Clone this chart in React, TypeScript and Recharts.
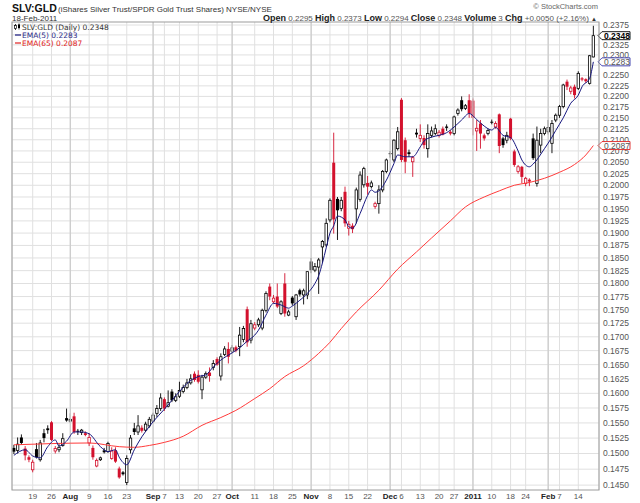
import React from 'react';
import { ComposedChart, Bar, Line, XAxis, YAxis, CartesianGrid, ReferenceLine } from 'recharts';

// SLV:GLD daily candles, 12-Jul-2010 .. 18-Feb-2011
const opens = [
  0.1509, 0.1505, 0.1526, 0.1508, 0.1494, 0.1474, 0.1507, 0.1490, 0.1533, 0.1541,
  0.1551, 0.1504, 0.1506, 0.1513, 0.1558, 0.1553, 0.1561, 0.1537, 0.1534, 0.1533,
  0.1517, 0.1509, 0.1480, 0.1490, 0.1505, 0.1503, 0.1492, 0.1505, 0.1476, 0.1470,
  0.1454, 0.1506, 0.1541, 0.1535, 0.1542, 0.1538, 0.1545, 0.1553, 0.1566, 0.1574,
  0.1590, 0.1578, 0.1603, 0.1588, 0.1595, 0.1603, 0.1610, 0.1618, 0.1634, 0.1632,
  0.1606, 0.1628, 0.1636, 0.1645, 0.1660, 0.1630, 0.1668, 0.1678, 0.1674, 0.1681,
  0.1682, 0.1695, 0.1751, 0.1694, 0.1716, 0.1722, 0.1716, 0.1749, 0.1794, 0.1765,
  0.1775, 0.1743, 0.1800, 0.1740, 0.1773, 0.1737, 0.1787, 0.1778, 0.1778, 0.1843,
  0.1826, 0.1832, 0.1872, 0.1876, 0.1927, 0.2049, 0.1971, 0.1951, 0.1986, 0.1910,
  0.1915, 0.1950, 0.1970, 0.2001, 0.2005, 0.1997, 0.1955, 0.1961, 0.1990, 0.2030,
  0.2070, 0.2055, 0.2080, 0.2192, 0.2099, 0.2072, 0.2051, 0.2116, 0.2103, 0.2104,
  0.2080, 0.2110, 0.2114, 0.2110, 0.2125, 0.2130, 0.2118, 0.2114, 0.2160, 0.2191,
  0.2172, 0.2191, 0.2190, 0.2120, 0.2137, 0.2110, 0.2114, 0.2141, 0.2129, 0.2158,
  0.2103, 0.2099, 0.2148, 0.2074, 0.2030, 0.2040, 0.2004, 0.2012, 0.2103, 0.2004,
  0.2088, 0.2114, 0.2118, 0.2092, 0.2145, 0.2156, 0.2176, 0.2235, 0.2212, 0.2223,
  0.2219, 0.2243, 0.2241, 0.2231, 0.2295,
];
const highs = [
  0.1514, 0.1526, 0.1531, 0.1512, 0.1497, 0.1490, 0.1517, 0.1522, 0.1540, 0.1546,
  0.1553, 0.1512, 0.1515, 0.1533, 0.1574, 0.1566, 0.1567, 0.1540, 0.1540, 0.1536,
  0.1533, 0.1513, 0.1492, 0.1495, 0.1509, 0.1519, 0.1510, 0.1510, 0.1479, 0.1472,
  0.1497, 0.1530, 0.1550, 0.1563, 0.1546, 0.1552, 0.1560, 0.1567, 0.1580, 0.1600,
  0.1593, 0.1605, 0.1607, 0.1600, 0.1620, 0.1615, 0.1625, 0.1633, 0.1638, 0.1640,
  0.1632, 0.1638, 0.1645, 0.1658, 0.1663, 0.1670, 0.1683, 0.1690, 0.1685, 0.1684,
  0.1718, 0.1720, 0.1756, 0.1731, 0.1727, 0.1735, 0.1752, 0.1785, 0.1800, 0.1778,
  0.1800, 0.1768, 0.1820, 0.1750, 0.1776, 0.1780, 0.1790, 0.1790, 0.1823, 0.1850,
  0.1840, 0.1850, 0.1886, 0.1930, 0.1972, 0.2116, 0.1975, 0.1975, 0.1997, 0.1925,
  0.1920, 0.1995, 0.2030, 0.2040, 0.2020, 0.2010, 0.1965, 0.2000, 0.2033, 0.2058,
  0.2075, 0.2101, 0.2129, 0.2196, 0.2105, 0.2078, 0.2064, 0.2125, 0.2135, 0.2110,
  0.2135, 0.2130, 0.2135, 0.2122, 0.2130, 0.2135, 0.2122, 0.2155, 0.2172, 0.2200,
  0.2182, 0.2205, 0.2195, 0.2145, 0.2145, 0.2114, 0.2125, 0.2146, 0.2142, 0.2160,
  0.2107, 0.2118, 0.2150, 0.2078, 0.2044, 0.2042, 0.2018, 0.2015, 0.2114, 0.2130,
  0.2125, 0.2130, 0.2145, 0.2145, 0.2160, 0.2180, 0.2230, 0.2240, 0.2225, 0.2228,
  0.2260, 0.2246, 0.2243, 0.2300, 0.2373,
];
const lows = [
  0.1499, 0.1500, 0.1514, 0.1489, 0.1486, 0.1470, 0.1492, 0.1487, 0.1518, 0.1532,
  0.1520, 0.1500, 0.1502, 0.1511, 0.1552, 0.1550, 0.1532, 0.1530, 0.1530, 0.1528,
  0.1512, 0.1490, 0.1478, 0.1488, 0.1500, 0.1501, 0.1490, 0.1485, 0.1460, 0.1465,
  0.1450, 0.1500, 0.1530, 0.1530, 0.1534, 0.1535, 0.1542, 0.1550, 0.1560, 0.1570,
  0.1570, 0.1576, 0.1585, 0.1585, 0.1592, 0.1600, 0.1607, 0.1615, 0.1620, 0.1617,
  0.1590, 0.1625, 0.1620, 0.1640, 0.1648, 0.1622, 0.1665, 0.1652, 0.1670, 0.1672,
  0.1665, 0.1690, 0.1682, 0.1688, 0.1712, 0.1718, 0.1712, 0.1745, 0.1768, 0.1762,
  0.1753, 0.1740, 0.1737, 0.1738, 0.1758, 0.1731, 0.1775, 0.1760, 0.1770, 0.1820,
  0.1822, 0.1780, 0.1840, 0.1872, 0.1922, 0.1899, 0.1886, 0.1945, 0.1913, 0.1895,
  0.1900, 0.1920, 0.1965, 0.1995, 0.1980, 0.1993, 0.1950, 0.1940, 0.1985, 0.2026,
  0.2060, 0.2050, 0.2076, 0.2050, 0.2026, 0.2062, 0.2018, 0.2105, 0.2095, 0.2080,
  0.2060, 0.2105, 0.2110, 0.2105, 0.2110, 0.2120, 0.2110, 0.2110, 0.2155, 0.2165,
  0.2168, 0.2150, 0.2110, 0.2075, 0.2080, 0.2098, 0.2110, 0.2135, 0.2125, 0.2070,
  0.2082, 0.2092, 0.2099, 0.2040, 0.2025, 0.2004, 0.1998, 0.1998, 0.2055, 0.1997,
  0.2070, 0.2110, 0.2112, 0.2070, 0.2140, 0.2150, 0.2172, 0.2215, 0.2205, 0.2195,
  0.2215, 0.2236, 0.2232, 0.2228, 0.2294,
];
const closes = [
  0.1503, 0.1515, 0.1517, 0.1497, 0.1490, 0.1486, 0.1494, 0.1517, 0.1525, 0.1538,
  0.1522, 0.1508, 0.1510, 0.1524, 0.1554, 0.1556, 0.1535, 0.1536, 0.1538, 0.1530,
  0.1526, 0.1494, 0.1489, 0.1493, 0.1502, 0.1516, 0.1504, 0.1487, 0.1462, 0.1467,
  0.1492, 0.1525, 0.1535, 0.1545, 0.1537, 0.1548, 0.1556, 0.1563, 0.1574, 0.1592,
  0.1574, 0.1584, 0.1588, 0.1594, 0.1605, 0.1610, 0.1618, 0.1625, 0.1623, 0.1620,
  0.1628, 0.1634, 0.1630, 0.1652, 0.1650, 0.1664, 0.1678, 0.1664, 0.1680, 0.1675,
  0.1703, 0.1715, 0.1690, 0.1724, 0.1722, 0.1731, 0.1749, 0.1781, 0.1775, 0.1772,
  0.1756, 0.1765, 0.1743, 0.1746, 0.1762, 0.1778, 0.1779, 0.1786, 0.1823, 0.1826,
  0.1833, 0.1846, 0.1883, 0.1920, 0.1968, 0.1928, 0.1947, 0.1968, 0.1920, 0.1918,
  0.1908, 0.1990, 0.2022, 0.2036, 0.1997, 0.2005, 0.1961, 0.1990, 0.2030, 0.2055,
  0.2068, 0.2099, 0.2118, 0.2055, 0.2051, 0.2068, 0.2060, 0.2112, 0.2110, 0.2088,
  0.2114, 0.2120, 0.2125, 0.2117, 0.2112, 0.2127, 0.2114, 0.2152, 0.2168, 0.2170,
  0.2178, 0.2160, 0.2150, 0.2126, 0.2114, 0.2103, 0.2121, 0.2139, 0.2137, 0.2086,
  0.2088, 0.2110, 0.2103, 0.2044, 0.2040, 0.2018, 0.2015, 0.2008, 0.2059, 0.2099,
  0.2114, 0.2125, 0.2128, 0.2137, 0.2156, 0.2176, 0.2227, 0.2223, 0.2220, 0.2203,
  0.2255, 0.2240, 0.2236, 0.2298, 0.2348,
];

// EMA lines, read at a subset of days: [day index, value]
const ema5Points: [number, number][] = [
  [0, 0.1497], [3, 0.1506], [5, 0.1496], [7, 0.1493], [9, 0.1511], [11, 0.1522], [12, 0.1512],
  [14, 0.1520], [16, 0.1535], [18, 0.1535], [20, 0.1532], [23, 0.1511], [25, 0.1503], [27, 0.1506],
  [28, 0.1494], [30, 0.1482], [32, 0.1506], [34, 0.1527], [36, 0.1544], [37, 0.1552], [40, 0.1573],
  [42, 0.1588], [44, 0.1603], [46, 0.1617], [49, 0.1629], [51, 0.1632], [53, 0.1646], [55, 0.1658],
  [58, 0.1671], [60, 0.1680], [62, 0.1692], [64, 0.1703], [65, 0.1712], [67, 0.1740], [69, 0.1762],
  [71, 0.1759], [73, 0.1753], [74, 0.1757], [76, 0.1768], [78, 0.1781], [80, 0.1800], [81, 0.1815],
  [82, 0.1840], [83, 0.1870], [84, 0.1900], [85, 0.1915], [86, 0.1935], [88, 0.1927], [89, 0.1913],
  [90, 0.1910], [92, 0.1940], [94, 0.1978], [95, 0.1990], [96, 0.1985], [97, 0.1988], [99, 0.2011],
  [101, 0.2047], [102, 0.2066], [104, 0.2062], [106, 0.2062], [108, 0.2084], [109, 0.2097],
  [111, 0.2106], [113, 0.2110], [115, 0.2116], [117, 0.2129], [119, 0.2145], [121, 0.2160],
  [123, 0.2146], [125, 0.2131], [127, 0.2122], [128, 0.2128], [130, 0.2110], [132, 0.2105],
  [134, 0.2075], [135, 0.2055], [137, 0.2040], [138, 0.2046], [141, 0.2080], [143, 0.2106],
  [144, 0.2121], [146, 0.2150], [148, 0.2184], [150, 0.2203], [151, 0.2223], [153, 0.2243],
  [154, 0.2283],
];
const ema65Points: [number, number][] = [
  [0, 0.1514], [10, 0.1516], [20, 0.1517], [28, 0.1511], [32, 0.1510], [36, 0.1513], [40, 0.1518],
  [45, 0.1528], [50, 0.1546], [55, 0.1559], [59, 0.1571], [64, 0.1591], [68, 0.1608], [72, 0.1629],
  [77, 0.1648], [81, 0.1670], [84, 0.1690], [87, 0.1715], [91, 0.1746], [97, 0.1787], [102, 0.1828],
  [107, 0.1862], [111, 0.1890], [116, 0.1925], [120, 0.1954], [125, 0.1975], [129, 0.1988],
  [133, 0.2000], [137, 0.2006], [141, 0.2015], [145, 0.2028], [149, 0.2045], [152, 0.2066],
  [154, 0.2087],
];

const priceTicks = [
  0.145, 0.1475, 0.15, 0.1525, 0.155, 0.1575, 0.16, 0.1625, 0.165, 0.1675, 0.17, 0.1725, 0.175,
  0.1775, 0.18, 0.1825, 0.185, 0.1875, 0.19, 0.1925, 0.195, 0.1975, 0.2, 0.2025, 0.205, 0.2075,
  0.21, 0.2125, 0.215, 0.2175, 0.22, 0.2225, 0.225, 0.2275, 0.23, 0.2325, 0.235, 0.2375,
];
const xTickIdx = [5, 10, 15, 20, 25, 30, 37, 40, 44, 49, 54, 58, 64, 69, 74, 79, 84, 89, 94, 100, 103, 108, 113, 117, 122, 127, 132, 136, 142, 145, 150];
const xTickLabels = ['19', '26', 'Aug', '9', '16', '23', 'Sep', '7', '13', '20', '27', 'Oct', '11', '18', '25', 'Nov', '8', '15', '22', 'Dec', '6', '13', '20', '27', '2011', '10', '18', '24', 'Feb', '7', '14'];
const monthLabels = ['Aug', 'Sep', 'Oct', 'Nov', 'Dec', '2011', 'Feb'];

const SANS = '"Liberation Sans", Arial, sans-serif';
const LEGEND_FONT = '"DejaVu Sans", Verdana, sans-serif';
const RED = '#d3112d';
const EMA5_COLOR = '#16167e';
const EMA65_COLOR = '#ff3b3b';

const ema5ByIdx = new Map(ema5Points);
const ema65ByIdx = new Map(ema65Points);
const last = closes.length - 1;
const ema5Last = ema5Points[ema5Points.length - 1][1];
const ema65Last = ema65Points[ema65Points.length - 1][1];

// value tags on the price axis, drawn last so they sit on top of the labels
const tags = [
  { v: ema65Last, stroke: '#e02020', bold: false },
  { v: ema5Last, stroke: '#3535a8', bold: false },
  { v: closes[last], stroke: '#000', bold: true },
];

// one spare slot at the right edge, like the original
const rows = Array.from({ length: closes.length + 1 }, (_, i) => ({
  idx: i,
  open: opens[i] ?? null,
  high: highs[i] ?? null,
  low: lows[i] ?? null,
  close: closes[i] ?? null,
  prev: i > 0 ? closes[i - 1] ?? null : null,
  ema5: ema5ByIdx.get(i) ?? null,
  ema65: ema65ByIdx.get(i) ?? null,
}));

function Candle(props: any) {
  const { x, y, width, height, payload } = props;
  if (!payload || payload.open == null || y == null) return null;
  const { open, high, low, close, prev } = payload;
  const top = Math.min(y, y + height);
  const h = Math.abs(height);
  const lh = Math.log(high);
  const span = lh - Math.log(low) || 1e-9;
  // log axis: position inside the high-low bar
  const py = (p: number) => top + (h * (lh - Math.log(p))) / span;
  const cx = x + width / 2;
  const color = prev == null || close >= prev ? '#000' : RED;
  const y1 = py(Math.max(open, close));
  const y2 = py(Math.min(open, close));
  const hollow = close >= open;
  return (
    <g>
      <line x1={cx} x2={cx} y1={top} y2={top + h} stroke={color} strokeWidth={0.9} />
      {hollow ? (
        <rect x={cx - 1.2} y={y1} width={2.4} height={Math.max(y2 - y1, 0.6)} fill="#fff" stroke={color} strokeWidth={0.8} />
      ) : (
        <rect x={cx - 1.5} y={y1} width={3} height={Math.max(y2 - y1, 1)} fill={color} />
      )}
    </g>
  );
}

const YTick = (p: any) => {
  const v = Number(p.payload.value);
  const tag = tags.find((t) => t.v === v);
  if (tag) {
    const cy = p.y;
    return (
      <g>
        <path
          d={`M598,${cy} L602,${cy - 4} L630,${cy - 4} L630,${cy + 4} L602,${cy + 4} Z`}
          fill="#fff"
          stroke={tag.stroke}
          strokeWidth={0.9}
        />
        <text x={604} y={cy + 3} fontSize={8.5} fontFamily={SANS} fontWeight={tag.bold ? 'bold' : 'normal'} fill={tag.bold ? '#000' : '#555'}>
          {v.toFixed(4)}
        </text>
      </g>
    );
  }
  // labels that a tag would fully cover are left out
  if (tags.some((t) => Math.abs(Math.log(v / t.v)) < 0.004)) return <g />;
  return (
    <text x={603} y={p.y} dy={3} fontSize={8.5} fontFamily={SANS} fill="#555">
      {v.toFixed(4)}
    </text>
  );
};

const XTick = (p: any) => {
  const k = xTickIdx.indexOf(p.payload.value);
  const lab = xTickLabels[k] ?? '';
  const bold = monthLabels.includes(lab);
  return (
    <text x={p.x} y={499} textAnchor="middle" fontSize={8} fontFamily={SANS} fontWeight={bold ? 'bold' : 'normal'} fill={bold ? '#222' : '#555'}>
      {lab}
    </text>
  );
};

export default function App() {
  const pre = { whiteSpace: 'pre' } as React.CSSProperties;
  return (
    <div style={{ position: 'absolute', left: 0, top: 0, width: 640, height: 503, background: '#fff' }}>
      <ComposedChart width={640} height={503} data={rows} margin={{ top: 22, right: 0, bottom: 0, left: 12 }}>
        <CartesianGrid stroke="#e0e0e0" strokeWidth={1} horizontalValues={priceTicks} />
        <XAxis dataKey="idx" type="category" ticks={xTickIdx} interval={0} tick={XTick} tickLine={false} axisLine={false} height={13} />
        <YAxis
          orientation="right"
          scale="log"
          domain={[0.14424, 0.23827]}
          allowDataOverflow
          ticks={[...priceTicks, ...tags.map((t) => t.v)]}
          interval={0}
          tick={YTick}
          tickLine={false}
          axisLine={false}
          width={41}
        />
        {xTickIdx
          .filter((_, k) => monthLabels.includes(xTickLabels[k]))
          .map((i) => (
            <ReferenceLine key={i} x={i} stroke="#cdcdcd" strokeWidth={1.3} />
          ))}
        <Bar
          dataKey={(d: any) => (d.open == null ? null : [d.low, d.high])}
          shape={(p: any) => <Candle {...p} />}
          isAnimationActive={false}
        />
        <Line dataKey="ema65" type="monotone" stroke={EMA65_COLOR} strokeWidth={1} dot={false} connectNulls isAnimationActive={false} />
        <Line dataKey="ema5" type="monotone" stroke={EMA5_COLOR} strokeWidth={1} dot={false} connectNulls isAnimationActive={false} />
      </ComposedChart>

      <svg width={640} height={503} style={{ position: 'absolute', left: 0, top: 0, pointerEvents: 'none' }}>
        <rect x={12} y={22} width={587} height={468} fill="none" stroke="#9c9c9c" strokeWidth={1} />
        <text x={12} y={12} fontFamily={SANS} fontSize={10.5} fontWeight="bold" fill="#111">SLV:GLD</text>
        <text x={58} y={12} fontFamily={SANS} fontSize={8} fill="#333">(iShares Silver Trust/SPDR Gold Trust Shares) NYSE/NYSE</text>
        <text x={12} y={20.5} fontFamily={SANS} fontSize={8} fill="#333">18-Feb-2011</text>
        <text x={598} y={8.5} textAnchor="end" fontFamily={SANS} fontSize={7.5} fill="#666">© StockCharts.com</text>
        <text x={597} y={20.5} textAnchor="end" fontFamily={SANS} style={pre}>
          <tspan fontWeight="bold" fontSize={9} fill="#222">Open</tspan>
          <tspan fontSize={8} fill="#555"> 0.2295 </tspan>
          <tspan fontWeight="bold" fontSize={9} fill="#222">High</tspan>
          <tspan fontSize={8} fill="#555"> 0.2373 </tspan>
          <tspan fontWeight="bold" fontSize={9} fill="#222">Low</tspan>
          <tspan fontSize={8} fill="#555"> 0.2294 </tspan>
          <tspan fontWeight="bold" fontSize={9} fill="#222">Close</tspan>
          <tspan fontSize={8} fill="#555"> 0.2348 </tspan>
          <tspan fontWeight="bold" fontSize={9} fill="#222">Volume</tspan>
          <tspan fontSize={8} fill="#555"> 3 </tspan>
          <tspan fontWeight="bold" fontSize={9} fill="#222">Chg</tspan>
          <tspan fontSize={8} fill="#555"> +0.0050 (+2.16%) </tspan>
          <tspan fontSize={6} fill="#333">▲</tspan>
        </text>

        {/* legend */}
        <line x1={15.5} x2={15.5} y1={24} y2={30} stroke="#000" strokeWidth={0.8} />
        <rect x={14.5} y={25.5} width={2} height={3} fill="#fff" stroke="#000" strokeWidth={0.7} />
        <line x1={19} x2={19} y1={23.5} y2={29.5} stroke="#000" strokeWidth={0.8} />
        <rect x={18} y={24.5} width={2} height={3.5} fill="#000" />
        <text x={22} y={29.5} fontFamily={LEGEND_FONT} fontSize={7.5} fill="#333">SLV:GLD (Daily) 0.2348</text>
        <line x1={15} x2={21} y1={35} y2={35} stroke={EMA5_COLOR} strokeWidth={1.2} />
        <text x={22} y={37.5} fontFamily={LEGEND_FONT} fontSize={7.5} fill="#2a2a88">EMA(5) 0.2283</text>
        <line x1={15} x2={21} y1={43} y2={43} stroke="#e02020" strokeWidth={1.2} />
        <text x={22} y={46} fontFamily={LEGEND_FONT} fontSize={7.5} fill="#e02020">EMA(65) 0.2087</text>
      </svg>
    </div>
  );
}
